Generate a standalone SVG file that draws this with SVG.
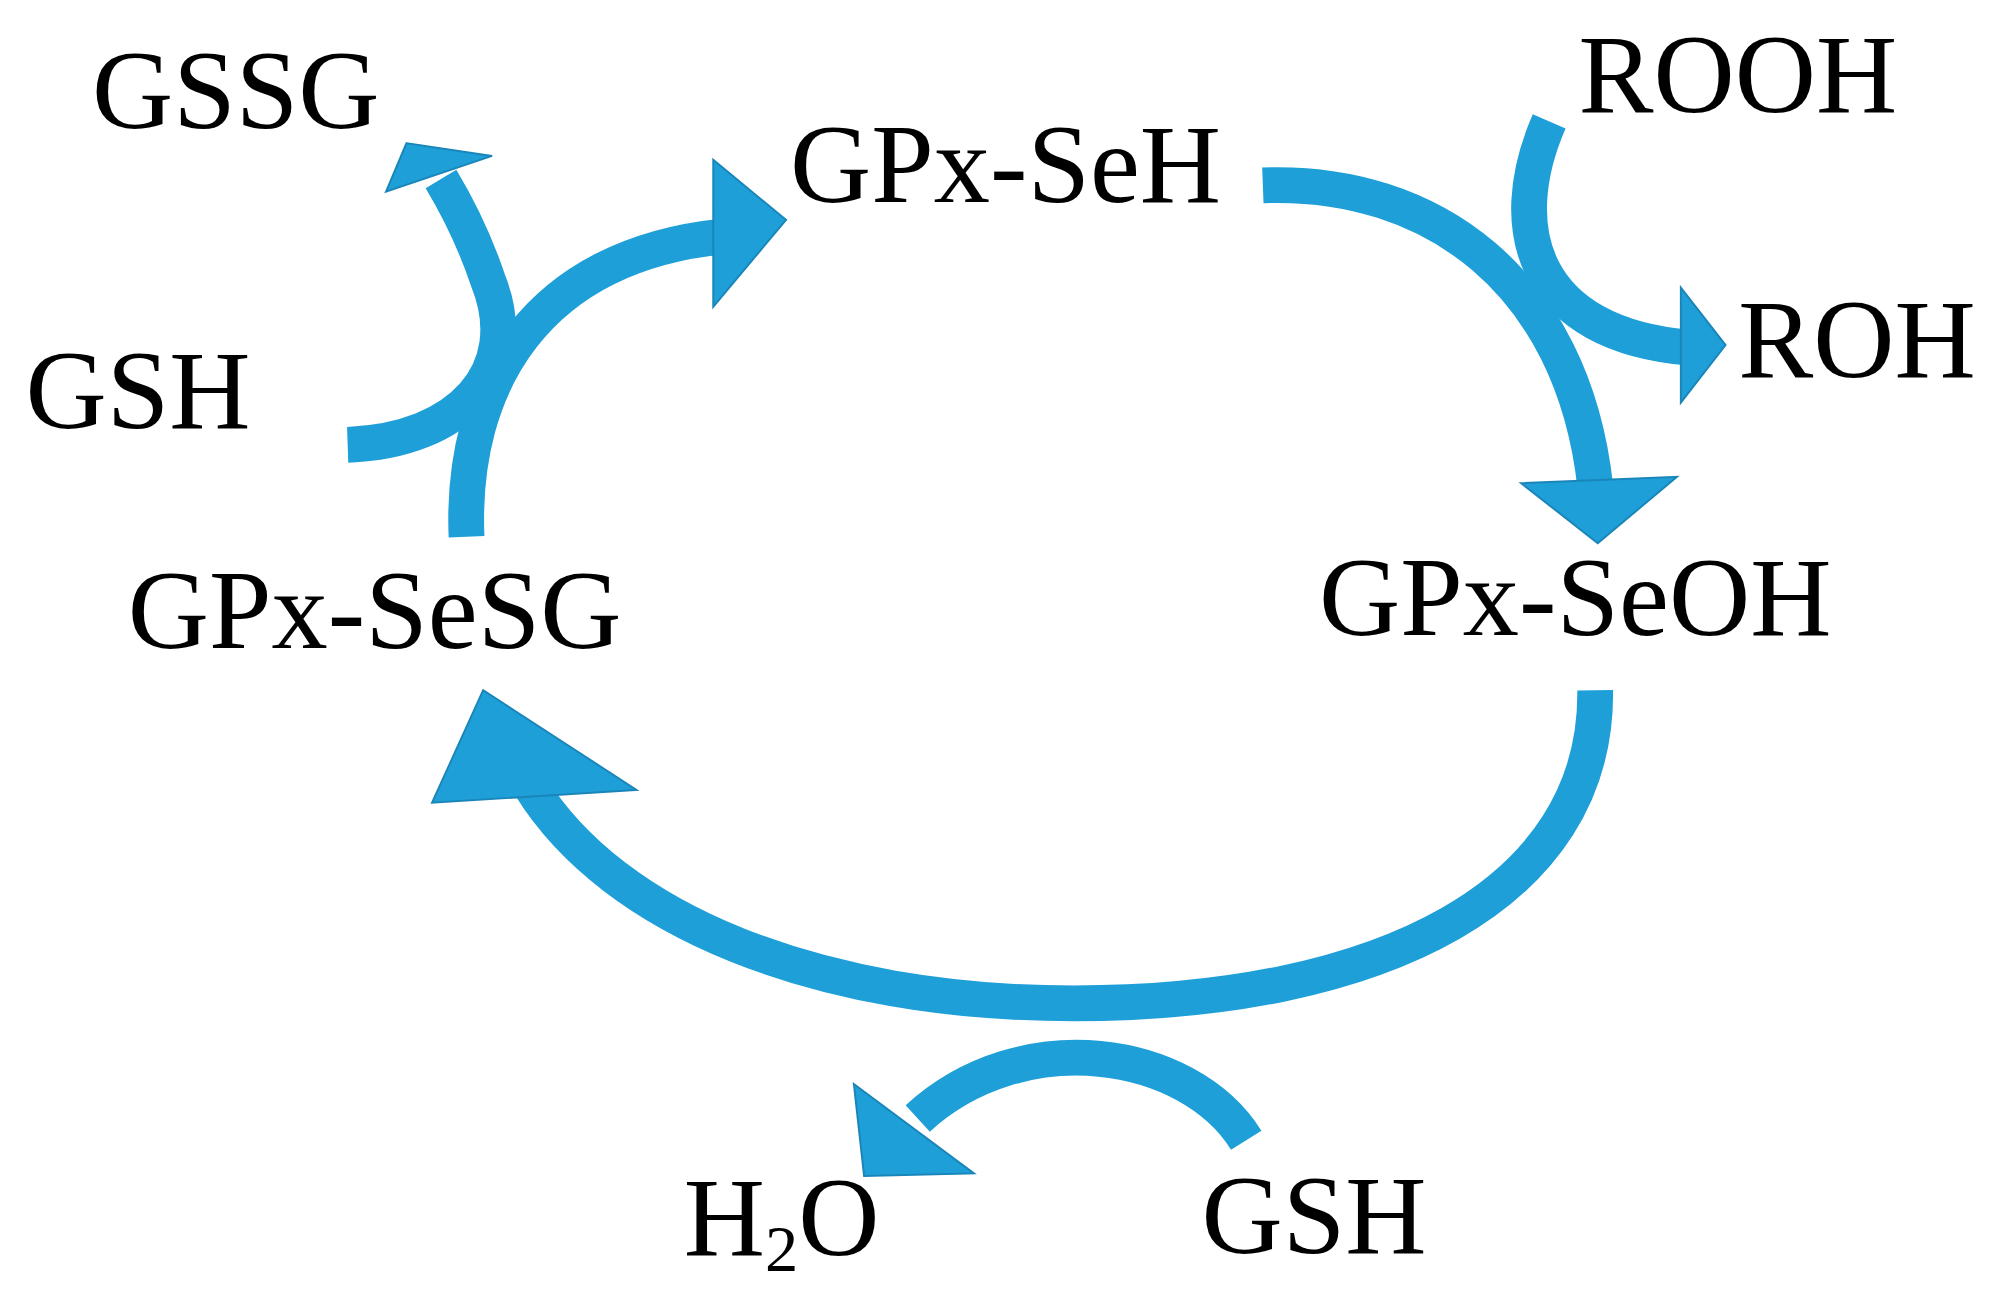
<svg xmlns="http://www.w3.org/2000/svg" width="1994" height="1305" viewBox="0 0 1994 1305">
<style>
.a{fill:none;stroke:#1e9fd8;stroke-width:28}
.h{fill:#1e9fd8;stroke:#1a85b8;stroke-width:1.5}
text{font-family:"Liberation Serif","Times New Roman",serif;font-size:88px;fill:#000}
</style>
<rect width="1994" height="1305" fill="#fff"/>
<g transform="scale(1.2782)">
<g id="connectors">
<path class="a" d="M988,145 C1120,140 1230,220 1248,380"/>
<polygon class="h" points="1190,378 1312,373 1250,425"/>
<path class="a" d="M1212,95 C1175,180 1200,262 1322,272"/>
<polygon class="h" points="1315,225 1350,270 1315,315"/>
<path class="a" d="M1248,540 C1250,700 1080,785 840,785 C640,785 480,720 415,615"/>
<polygon class="h" points="338,628 378,540 498,618"/>
<path class="a" d="M365,420 C360,300 420,200 565,185"/>
<polygon class="h" points="558,125 615,172 558,240"/>
<path class="a" d="M272,348 C360,345 410,290 382,220 C372,190 360,165 345,140"/>
<polygon class="h" points="318,112 385,122 302,150"/>
<path class="a" d="M975,892 C930,820 800,800 718,875"/>
<polygon class="h" points="668,848 762,918 676,920"/>
</g>
<g id="n-gssg"><text x="72" y="100">GSSG</text></g>
<g id="n-gpxseh"><text x="618" y="158">GPx-SeH</text></g>
<g id="n-rooh"><text x="1235" y="88">ROOH</text></g>
<g id="n-roh"><text x="1360" y="295">ROH</text></g>
<g id="n-gsh1"><text x="20" y="335">GSH</text></g>
<g id="n-gpxsesg"><text x="100" y="507">GPx-SeSG</text></g>
<g id="n-gpxseoh"><text x="1032" y="497">GPx-SeOH</text></g>
<g id="n-h2o"><text x="535" y="982">H<tspan font-size="52" dy="12">2</tspan><tspan dy="-12">O</tspan></text></g>
<g id="n-gsh2"><text x="940" y="980">GSH</text></g>
</g>
</svg>
